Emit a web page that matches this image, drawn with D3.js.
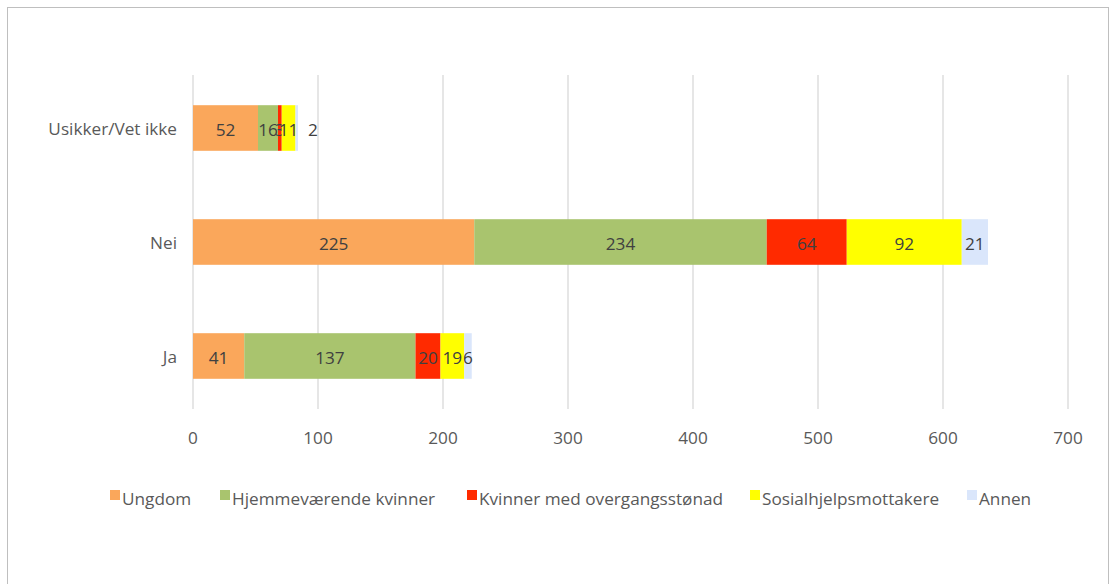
<!DOCTYPE html>
<html>
<head>
<meta charset="utf-8">
<script src="https://cdn.jsdelivr.net/npm/d3@7"></script>
<style>
body { margin: 0; background: #fff; }
text { font-family: "Open Sans", "Liberation Sans", sans-serif; }
</style>
</head>
<body>
<script>
var categories = ["Usikker/Vet ikke", "Nei", "Ja"];
var seriesNames = ["Ungdom", "Hjemmeværende kvinner", "Kvinner med overgangsstønad", "Sosialhjelpsmottakere", "Annen"];
var ungdom = [52, 225, 41];
var hjemme = [16, 234, 137];
var overgang = [3, 64, 20];
var sosial = [11, 92, 19];
var annen = [2, 21, 6];
var xTicks = [0, 100, 200, 300, 400, 500, 600, 700];
var colors = ["#FAA75B", "#A9C46E", "#FF2A00", "#FFFF00", "#DAE6FB"];

var W = 1114, H = 584;
var margin = {left: 193, right: 46, top: 71, bottom: 171};
var fs = 17.2;

var svg = d3.select("body").append("svg").attr("width", W).attr("height", H);

svg.append("rect").attr("x", 7.5).attr("y", 7.5).attr("width", 1101).attr("height", 600)
  .attr("fill", "#fff").attr("stroke", "#bfbfbf");

var x = d3.scaleLinear().domain([0, 700]).range([margin.left, W - margin.right]);
var y = d3.scaleBand().domain(categories).range([margin.top, H - margin.bottom]).paddingInner(0.6).paddingOuter(0.3);

// grid
svg.selectAll("line.grid").data(xTicks).enter().append("line")
  .attr("x1", d => x(d)).attr("x2", d => x(d))
  .attr("y1", 75).attr("y2", 409)
  .attr("stroke", "#d9d9d9").attr("stroke-width", 1.3);

var table = categories.map(function(c, i) {
  return {cat: c, Ungdom: ungdom[i], "Hjemmeværende kvinner": hjemme[i],
    "Kvinner med overgangsstønad": overgang[i], "Sosialhjelpsmottakere": sosial[i], Annen: annen[i]};
});
var stack = d3.stack().keys(seriesNames)(table);

var layers = svg.selectAll("g.layer").data(stack).enter().append("g")
  .attr("fill", (d, i) => colors[i]);

layers.selectAll("rect").data(d => d).enter().append("rect")
  .attr("x", d => x(d[0]))
  .attr("width", d => x(d[1]) - x(d[0]))
  .attr("y", d => y(d.data.cat))
  .attr("height", y.bandwidth());

layers.each(function(layer, li) {
  d3.select(this).selectAll("text").data(layer).enter().append("text")
    .attr("x", function(d) {
      var w = x(d[1]) - x(d[0]);
      var cx = (x(d[0]) + x(d[1])) / 2;
      if (li === 4 && w < 5) return x(d[1]) + 15;
      return cx;
    })
    .attr("y", d => y(d.data.cat) + y.bandwidth() / 2 + 8)
    .attr("text-anchor", "middle")
    .attr("fill", "#404040")
    .attr("font-size", fs)
    .text(d => d[1] - d[0]);
});

// category labels
svg.selectAll("text.cat").data(categories).enter().append("text")
  .attr("x", 177).attr("y", d => y(d) + y.bandwidth() / 2 + 7)
  .attr("text-anchor", "end").attr("fill", "#595959").attr("font-size", fs)
  .text(d => d);

// x tick labels
svg.selectAll("text.tick").data(xTicks).enter().append("text")
  .attr("x", d => x(d)).attr("y", 444)
  .attr("text-anchor", "middle").attr("fill", "#595959").attr("font-size", fs)
  .text(d => d);

// legend
var legX = [110, 220, 467, 750, 967];
var leg = svg.selectAll("g.leg").data(seriesNames).enter().append("g")
  .attr("transform", (d, i) => "translate(" + legX[i] + ",490)");
leg.append("rect").attr("width", 10).attr("height", 10).attr("fill", (d, i) => colors[i]);
leg.append("text").attr("x", 12).attr("y", 15).attr("fill", "#595959").attr("font-size", fs).text(d => d);
</script>
</body>
</html>
